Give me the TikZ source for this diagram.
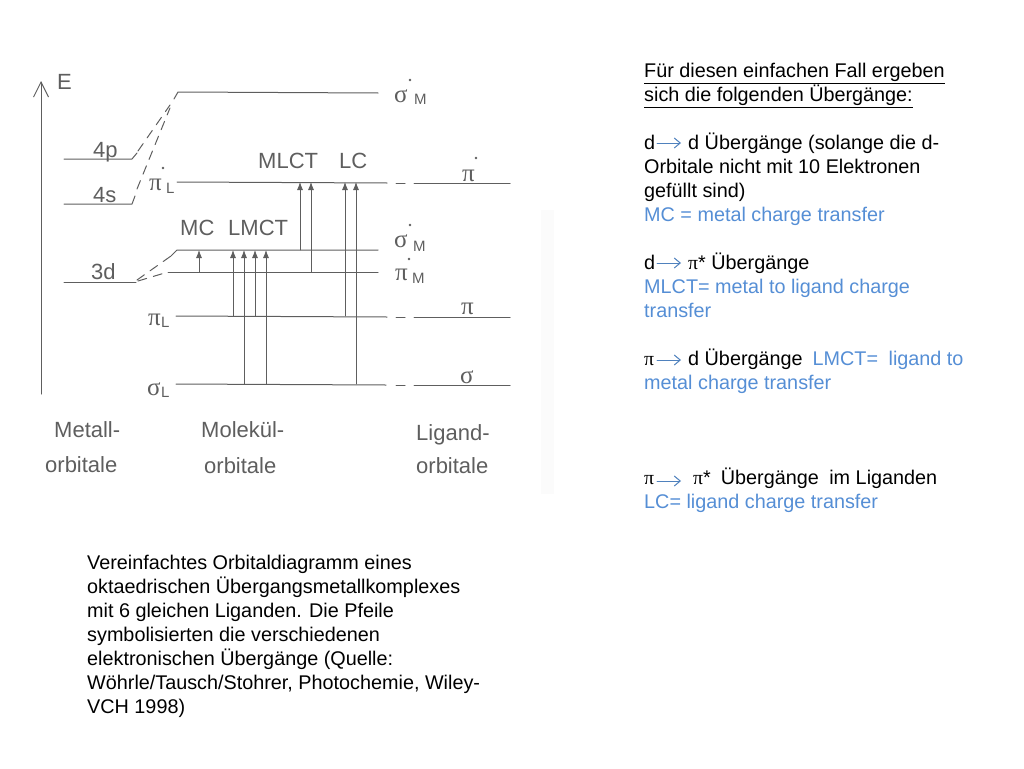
\documentclass[tikz,border=0pt]{standalone}
\usepackage{fontspec}
\setmainfont{Liberation Sans}
\newfontfamily\grk{Liberation Serif}
\usetikzlibrary{arrows.meta}

\definecolor{scan}{HTML}{5E5E5E}
\definecolor{note}{HTML}{558ED5}
\definecolor{notearrow}{HTML}{4F81BD}

\tikzset{
  level/.style={draw=scan,line width=1pt},
  link/.style={draw=scan,line width=1pt,dash pattern=on 9pt off 7pt},
  excite/.style={draw=scan,line width=0.8pt,-{Latex[length=8pt,width=6pt]}},
  orb/.style={anchor=base west,inner sep=0pt,text=scan,font=\fontsize{22}{24}\selectfont},
  sub/.style={anchor=base west,inner sep=0pt,text=scan,font=\fontsize{15}{16}\selectfont},
  grkl/.style={anchor=base west,inner sep=0pt,text=scan,font=\grk\fontsize{25}{24}\selectfont},
  para/.style={anchor=north west,inner sep=0pt,align=left,font=\fontsize{19.8}{24}\selectfont},
  hop/.style={draw=notearrow,line width=1pt,-{Straight Barb[length=6pt,width=10pt]}}
}

\begin{document}
\begin{tikzpicture}[x=1pt,y=-1pt,>=Latex,line join=round,line cap=round]
  \useasboundingbox (0,0) rectangle (1024,768);

  % ---- faint edge of the scanned page ------------------------------------
  \fill[black!1.5] (541,210) rectangle (554,494);

  % ---- energy axis --------------------------------------------------------
  \coordinate (axisB) at (41,394);
  \coordinate (axisT) at (41,81);
  \draw[draw=scan,line width=1pt,-{Straight Barb[length=15pt,width=15pt]}] (axisB) -- (axisT);
  \node[orb] (eLab) at (57,89) {E};

  % ---- metal levels --------------------------------------------------------
  \coordinate (p4) at (64,159);
  \coordinate (s4) at (64,204);
  \coordinate (d3) at (64,282);
  \draw[level] (p4) -- (132,159) -- (137,153);
  \draw[level] (s4) -- (132,204) -- (135,196);
  \draw[level] (d3) -- (136,282);
  \node[orb] (p4Lab) at (93,157) {4p};
  \node[orb] (s4Lab) at (93,202) {4s};
  \node[orb] (d3Lab) at (91,279) {3d};

  % ---- molecular levels, left part -----------------------------------------
  \coordinate (sigU) at (178,92);
  \coordinate (piS) at (177,182);
  \coordinate (sigM) at (177,250);
  \coordinate (piM) at (168,272);
  \coordinate (piL) at (176,316);
  \coordinate (sigL) at (176,384);
  \draw[level] (174,99) -- (sigU) -- (378,93);
  \draw[level] (piS) -- (387,183);
  \draw[level] (171,256) -- (sigM) -- (378,250);
  \draw[level] (piM) -- (378,272);
  \draw[level] (piL) -- (387,317);
  \draw[level] (sigL) -- (386,385);

  % ---- dashed links between the columns ------------------------------------
  \draw[link] (138,151) -- (170,105);
  \draw[link] (137,189) -- (170,108);
  \draw[link] (137,280) -- (171,256);
  \draw[link] (138,281) -- (168,272);

  % ---- ligand levels --------------------------------------------------------
  \foreach \yy in {183.5,317,385}{
    \draw[level] (396,\yy) -- (405,\yy);
    \draw[level] (414,\yy) -- (510,\yy);
  }

  % ---- transitions -----------------------------------------------------------
  \foreach \xx/\from/\to in {199/piM/sigM,233/piL/sigM,244/sigL/sigM,255/piL/sigM,266/sigL/sigM,
                             300/sigM/piS,311/piM/piS,345/piL/piS,356/sigL/piS}{
    \draw[excite] (\xx,0 |- \from) -- (\xx,0 |- \to);
  }
  \node[orb] (mcLab) at (180,235) {MC};
  \node[orb] (lmctLab) at (228,235) {LMCT};
  \node[orb] (mlctLab) at (258,168) {MLCT};
  \node[orb] (lcLab) at (339,168) {LC};

  % ---- level symbols ----------------------------------------------------------
  \node[grkl] (sU) at (394,102) {σ};
  \node[sub] (sUm) at (414,104) {M};
  \node[grkl] (piL1) at (149,190) {π};
  \node[sub] (piL1m) at (166,193) {L};
  \node[grkl] (sM) at (394,247) {σ};
  \node[sub] (sMm) at (413,251) {M};
  \node[grkl] (pM) at (395,280) {π};
  \node[sub] (pMm) at (412,283) {M};
  \node[grkl] (pL) at (148,325) {π};
  \node[sub] (pLm) at (161,327) {L};
  \node[grkl] (sL) at (147,395) {σ};
  \node[sub] (sLm) at (161,397) {L};
  \node[grkl] (pS) at (462,181) {π};
  \node[grkl] (pP) at (461,314) {π};
  \node[grkl] (sS) at (460,383) {σ};
  \foreach \xx/\yy in {163/168,410/80,476/158,410/225,409/259}
    \fill[scan] (\xx,\yy) circle (1.4pt);

  % ---- column captions --------------------------------------------------------
  \node[orb] (capA) at (54,437) {Metall-};
  \node[orb] (capB) at (45,472) {orbitale};
  \node[orb] (capC) at (201,437) {Molekül-};
  \node[orb] (capD) at (204,473) {orbitale};
  \node[orb] (capE) at (416,440) {Ligand-};
  \node[orb] (capF) at (416,473) {orbitale};

  % ---- caption below the scan --------------------------------------------------
  \node[para] (captionTxt) at (87,555) {Vereinfachtes Orbitaldiagramm eines\\
    oktaedrischen Übergangsmetallkomplexes\\
    mit 6 gleichen Liganden. Die Pfeile\\
    symbolisierten die verschiedenen\\
    elektronischen Übergänge (Quelle:\\
    Wöhrle/Tausch/Stohrer, Photochemie, Wiley-\\
    VCH 1998)};

  % ---- notes on the right --------------------------------------------------------
  \node[para] (introTxt) at (644,63) {\underline{Für diesen einfachen Fall ergeben}\\
    \underline{sich die folgenden Übergänge:}};
  \node[para] (ddTxt) at (644,133) {d\hspace{33pt}d Übergänge (solange die d-\\
    Orbitale nicht mit 10 Elektronen\\
    gefüllt sind)\\
    \textcolor{note}{MC = metal charge transfer}};
  \node[para] (dpTxt) at (644,253) {d\hspace{33pt}{\grk π}* Übergänge\\
    \textcolor{note}{MLCT= metal to ligand charge}\\
    \textcolor{note}{transfer}};
  \node[para] (pdTxt) at (644,349) {{\grk π}\hspace{34pt}d Übergänge\hspace{10pt}\textcolor{note}{LMCT=\hspace{5pt} ligand to}\\
    \textcolor{note}{metal charge transfer}};
  \node[para] (ppTxt) at (644,468) {{\grk π}\hspace{39pt}{\grk π}*\hspace{10pt}Übergänge\hspace{5pt} im Liganden\\
    \textcolor{note}{LC= ligand charge transfer}};

  % ---- inline arrows -----------------------------------------------------------
  \foreach \yy in {143,263,360,481}{
    \coordinate (hopA) at (657,\yy);
    \coordinate (hopB) at (681,\yy);
    \draw[hop] (hopA) -- (hopB);
  }

\end{tikzpicture}
\end{document}
